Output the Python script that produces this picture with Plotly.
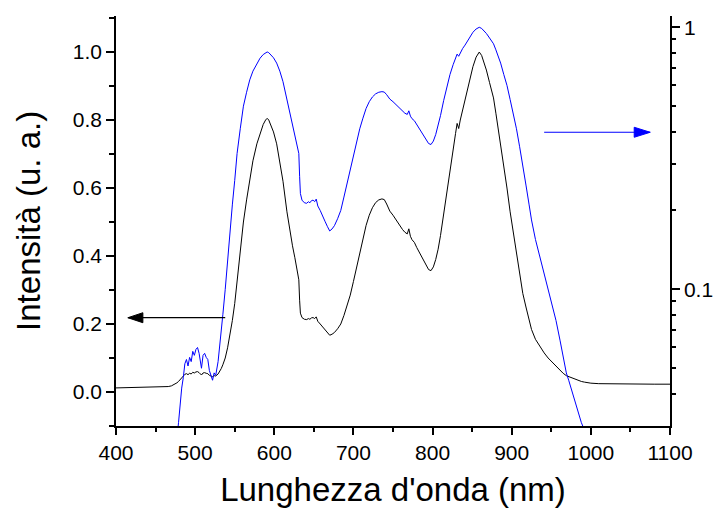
import plotly.graph_objects as go

# Emission spectrum: wavelength (nm) and intensity (arbitrary units)
wavelength = [
    400, 410, 420, 430, 440, 450, 460, 466, 470, 474, 477, 479, 481, 483, 485,
    487, 489, 491, 493, 495, 497, 499, 501, 503, 505, 507, 508, 510, 512, 514,
    516, 518, 520, 522, 524, 526, 529, 531, 533, 535, 538, 541, 544, 547, 550,
    553, 557, 561, 565, 569, 573, 578, 582, 586, 589, 591, 593, 595, 599, 603,
    607, 611, 616, 620, 623, 626, 629, 631, 632, 633, 635, 638, 641, 643, 645,
    647, 649, 651, 653, 655, 658, 661, 664, 667, 670, 673, 676, 680, 684, 688,
    692, 696, 700, 704, 708, 712, 716, 720, 724, 728, 732, 736, 739, 742, 746,
    750, 754, 758, 762, 765, 768, 770, 772, 774, 777, 780, 784, 788, 792, 795,
    798, 801, 804, 807, 810, 814, 818, 822, 826, 829, 831, 833, 835, 838, 841,
    844, 847, 851, 855, 859, 862, 865, 868, 872, 877, 880, 883, 886, 890, 894,
    898, 902, 906, 910, 914, 918, 922, 925, 930, 936, 941, 946, 951, 956, 961,
    965, 969, 972, 975, 978, 982, 985, 988, 992, 996, 1000, 1010, 1020, 1040,
    1060, 1080, 1100,
]
intensity = [
    0.012, 0.0125, 0.013, 0.0132, 0.0135, 0.014, 0.0148, 0.016, 0.018, 0.022,
    0.027, 0.031, 0.037, 0.042, 0.046, 0.052, 0.054, 0.051, 0.055, 0.053,
    0.058, 0.056, 0.059, 0.060, 0.057, 0.052, 0.050, 0.056, 0.057, 0.055,
    0.054, 0.049, 0.047, 0.045, 0.048, 0.047, 0.053, 0.060, 0.069, 0.080,
    0.100, 0.130, 0.165, 0.21, 0.26, 0.33, 0.41, 0.50, 0.565, 0.63,
    0.68, 0.73, 0.762, 0.787, 0.80, 0.805, 0.80, 0.79, 0.765, 0.73,
    0.68, 0.62, 0.53, 0.465, 0.43, 0.395, 0.355, 0.33, 0.27, 0.232,
    0.219, 0.214, 0.213, 0.216, 0.214, 0.218, 0.219, 0.216, 0.221, 0.208,
    0.200, 0.192, 0.182, 0.174, 0.167, 0.170, 0.175, 0.186, 0.200, 0.225,
    0.255, 0.285, 0.325, 0.365, 0.41, 0.45, 0.49, 0.52, 0.542, 0.557,
    0.565, 0.568, 0.566, 0.553, 0.532, 0.52, 0.505, 0.49, 0.478, 0.47,
    0.465, 0.48, 0.458, 0.448, 0.44, 0.425, 0.408, 0.39, 0.37, 0.36,
    0.357, 0.368, 0.39, 0.42, 0.46, 0.525, 0.59, 0.66, 0.72, 0.76,
    0.79, 0.775, 0.80, 0.83, 0.855, 0.885, 0.92, 0.957, 0.985, 1.0,
    0.99, 0.97, 0.947, 0.91, 0.865, 0.82, 0.775, 0.73, 0.66, 0.60,
    0.53, 0.47, 0.41, 0.35, 0.29, 0.25, 0.21, 0.184, 0.155, 0.132,
    0.115, 0.100, 0.088, 0.076, 0.064, 0.055, 0.048, 0.045, 0.042, 0.039,
    0.036, 0.033, 0.031, 0.029, 0.027, 0.026, 0.0245, 0.024, 0.0235,
    0.023, 0.023, 0.023,
]

left_ticks = [0.0, 0.2, 0.4, 0.6, 0.8, 1.0]
left_labels = ["0.0", "0.2", "0.4", "0.6", "0.8", "1.0"]
right_ticks = [0.1, 1]
right_labels = ["0.1", "1"]
right_minor = [0.04, 0.05, 0.06, 0.07, 0.08, 0.09,
               0.2, 0.3, 0.4, 0.5, 0.6, 0.7, 0.8, 0.9]

FONT = "Liberation Sans, Arial, sans-serif"

fig = go.Figure()
# linear scale (left axis)
fig.add_trace(go.Scatter(x=wavelength, y=intensity, mode="lines",
                         line=dict(color="#000000", width=1), yaxis="y"))
# same spectrum on a logarithmic scale (right axis)
fig.add_trace(go.Scatter(x=wavelength, y=intensity, mode="lines",
                         line=dict(color="#0000ff", width=1), yaxis="y2"))

axis_common = dict(showgrid=False, zeroline=False, showline=True, automargin=False,
                   linecolor="#000000", linewidth=1.5, ticks="outside",
                   tickcolor="#000000", tickwidth=1.5,
                   tickfont=dict(family=FONT, size=21, color="#000000"))

fig.update_layout(
    width=713, height=508,
    margin=dict(l=116, r=43, t=16, b=82),
    paper_bgcolor="#ffffff", plot_bgcolor="#ffffff",
    showlegend=False,
    xaxis=dict(range=[400, 1100], tickvals=[400, 500, 600, 700, 800, 900, 1000, 1100],
               ticklen=7, minor=dict(dtick=50, tick0=400, ticks="outside", ticklen=4,
                                     tickcolor="#000000", tickwidth=1.5),
               title=dict(text="Lunghezza d'onda (nm)", standoff=16,
                          font=dict(family=FONT, size=33, color="#000000")),
               **axis_common),
    yaxis=dict(range=[-0.1, 1.106], tickvals=left_ticks, ticktext=left_labels,
               ticklen=8, minor=dict(dtick=0.1, tick0=0, ticks="outside", ticklen=5,
                                     tickcolor="#000000", tickwidth=1.5),
               **axis_common),
    yaxis2=dict(type="log", overlaying="y", side="right",
                range=[-1.5214, 0.0430], tickvals=right_ticks, ticktext=right_labels,
                ticklen=8, minor=dict(tickmode="array", tickvals=right_minor,
                                      ticks="outside", ticklen=4,
                                      tickcolor="#000000", tickwidth=1.5),
                **axis_common),
)

# Left axis title, placed as rotated text beside the tick labels
fig.add_annotation(text="Intensità (u. a.)", textangle=-90, showarrow=False,
                   xref="paper", yref="paper", x=-0.159, y=0.5,
                   xanchor="center", yanchor="middle",
                   font=dict(family=FONT, size=33, color="#000000"))

# Arrows pointing to the axis each curve belongs to
arrows = [
    dict(tail=538, tip=415, y=0.2185, color="#000000", head=15),
    dict(tail=941, tip=1075, y=0.764, color="#0000ff", head=16),
]
for a in arrows:
    sign = 1 if a["tip"] < a["tail"] else -1
    fig.add_shape(type="line", xref="x", yref="y", x0=a["tail"], x1=a["tip"],
                  y0=a["y"], y1=a["y"], line=dict(color=a["color"], width=1.2))
    h = a["head"] * sign
    fig.add_shape(type="path", xref="x", yref="y",
                  xsizemode="pixel", ysizemode="pixel",
                  xanchor=a["tip"], yanchor=a["y"],
                  path=f"M0,0 L{h},5 L{h},-5 Z",
                  fillcolor=a["color"], line=dict(color=a["color"], width=1))

fig.write_html("out.html")
